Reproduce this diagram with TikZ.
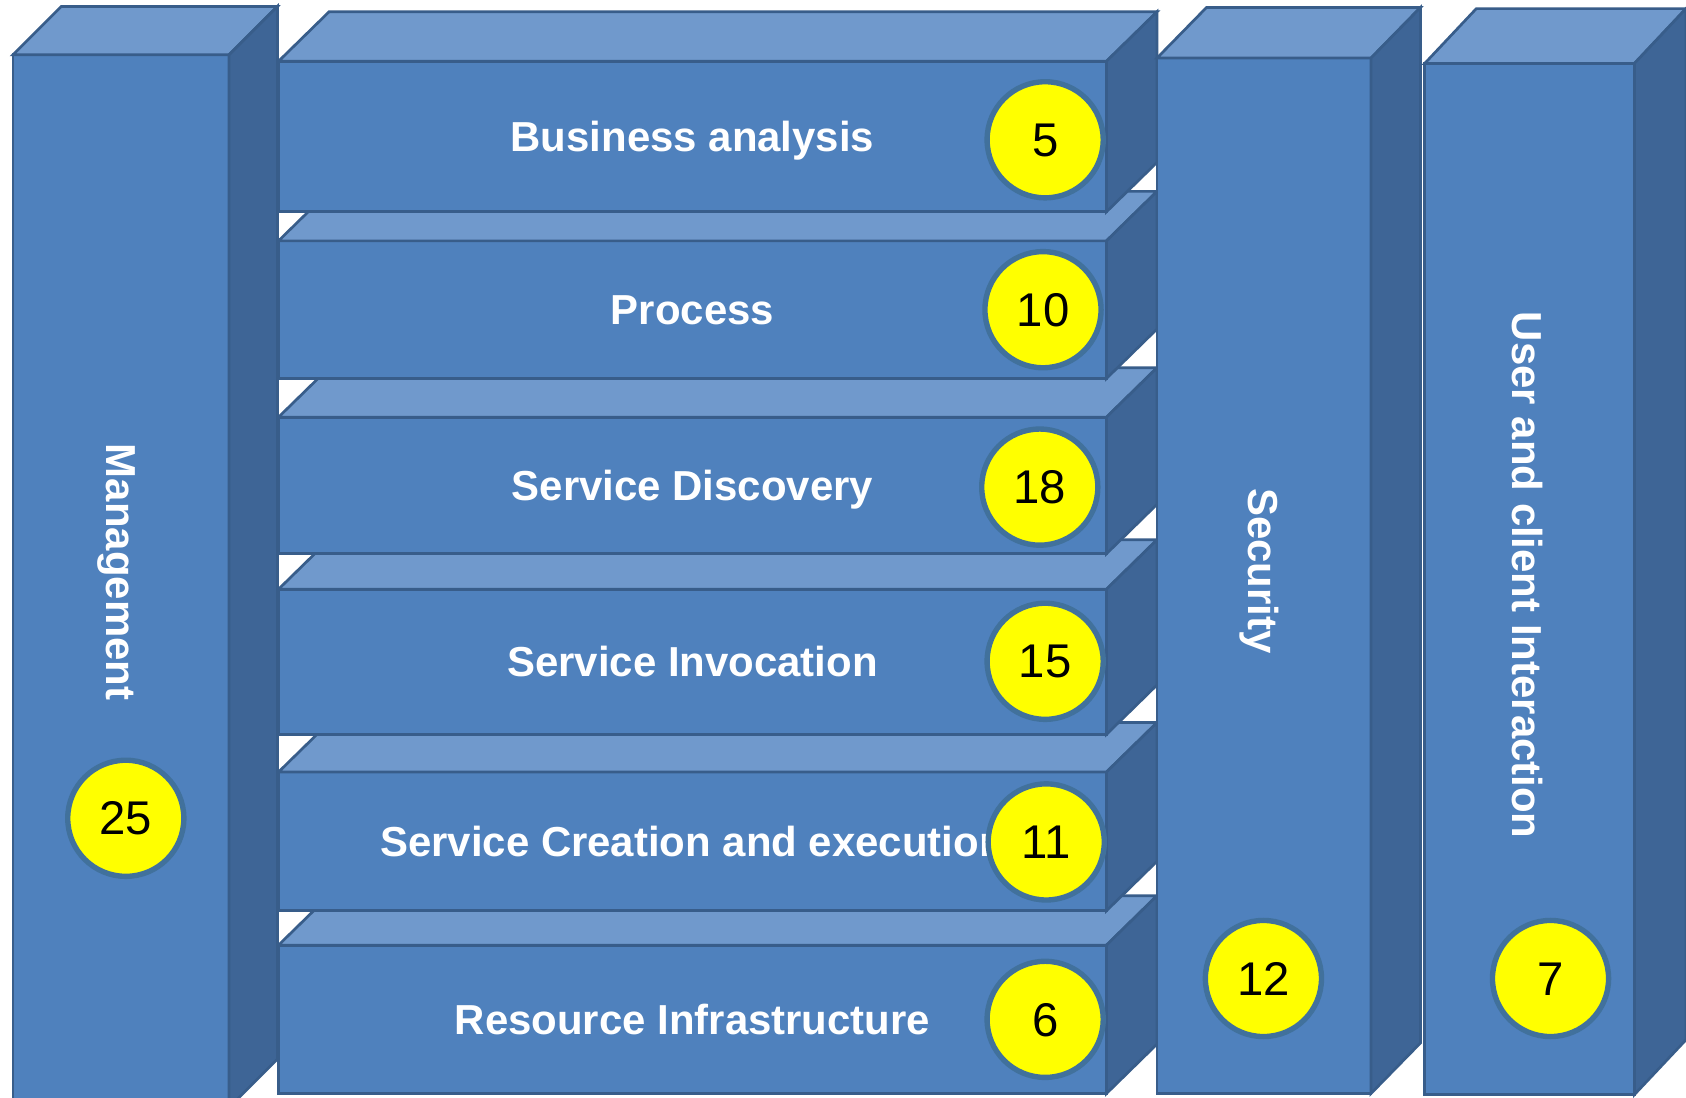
\documentclass[tikz,border=0pt]{standalone}
\usepackage{fontspec}
\setmainfont{Liberation Sans}
\definecolor{frontc}{HTML}{4F81BD}
\definecolor{topc}{HTML}{7099CC}
\definecolor{sidec}{HTML}{3E6596}
\definecolor{edgec}{HTML}{385D8A}
\definecolor{ringc}{HTML}{41719C}
\definecolor{badgec}{HTML}{FFFF00}
\newcommand\prismfaces[3]{%
  \path[topface] (#1.north west) -- ([xshift=#2pt,yshift=#3pt]#1.north west) -- ([xshift=#2pt,yshift=#3pt]#1.north east) -- (#1.north east) -- cycle;
  \path[sideface] (#1.north east) -- ([xshift=#2pt,yshift=#3pt]#1.north east) -- ([xshift=#2pt,yshift=#3pt]#1.south east) -- (#1.south east) -- cycle;
}
\tikzset{
  facebase/.style={draw=edgec, line width=2.5pt, line join=miter},
  frontface/.style={facebase, fill=frontc, rectangle, inner sep=0pt, outer sep=0pt,
     text=white, font=\fontsize{39}{47}\selectfont\bfseries, text height=28pt, text depth=0pt},
  topface/.style={facebase, fill=topc},
  sideface/.style={facebase, fill=sidec},
  barbox/.style={frontface, minimum width=770pt},
  vlabel/.style={text=white, font=\fontsize{39}{47}\selectfont\bfseries, rotate=-90, inner sep=0pt,
     text height=28pt, text depth=0pt},
  badge/.style={circle, minimum size=108pt, inner sep=0pt, fill=badgec, draw=ringc, line width=5pt,
     text=black, font=\fontsize{44}{50}\selectfont, text height=31pt, text depth=0pt}
}
\begin{document}
\begin{tikzpicture}[x=1pt,y=-1pt]
\clip (0,0) rectangle (1568,1021);
\fill[white] (0,0) rectangle (1568,1021);
% horizontal bars, bottom first
\node[barbox, minimum height=138pt] (b6) at (644,948) {Resource Infrastructure};
\prismfaces{b6}{47}{46}
\node[barbox, minimum height=129pt] (b5) at (644,782.5) {Service Creation and execution};
\prismfaces{b5}{47}{46}
\node[barbox, minimum height=135pt] (b4) at (644,615.5) {Service Invocation};
\prismfaces{b4}{47}{46}
\node[barbox, minimum height=127pt] (b3) at (644,451.5) {Service Discovery};
\prismfaces{b3}{47}{46}
\node[barbox, minimum height=128pt] (b2) at (644,288) {Process};
\prismfaces{b2}{47}{46}
\node[barbox, minimum height=140pt] (b1) at (644,127) {Business analysis};
\prismfaces{b1}{47}{46}
% vertical columns
\node[frontface, minimum width=201pt, minimum height=979pt] (mg) at (112.5,540.5) {};
\prismfaces{mg}{45}{45}
\node[frontface, minimum width=199pt, minimum height=963pt] (sec) at (1175.5,535.5) {};
\prismfaces{sec}{46}{47}
\node[frontface, minimum width=195pt, minimum height=959pt] (usr) at (1422.5,538.5) {};
\prismfaces{usr}{48}{51}
% column labels
\node[vlabel] (mgt) at (113,532) {Management};
\node[vlabel] (sect) at (1175,531) {Security};
\node[vlabel] (usrt) at (1421,535) {User and client Interaction};
% badges
\node[badge] (c5) at (972,130) {5};
\node[badge] (c10) at (970,288) {10};
\node[badge] (c18) at (967,453) {18};
\node[badge] (c15) at (972,615) {15};
\node[badge] (c11) at (973,783) {11};
\node[badge] (c6) at (972,948) {6};
\node[badge] (c25) at (117,761) {25};
\node[badge] (c12) at (1175,910) {12};
\node[badge] (c7) at (1442,910) {7};
\end{tikzpicture}
\end{document}
